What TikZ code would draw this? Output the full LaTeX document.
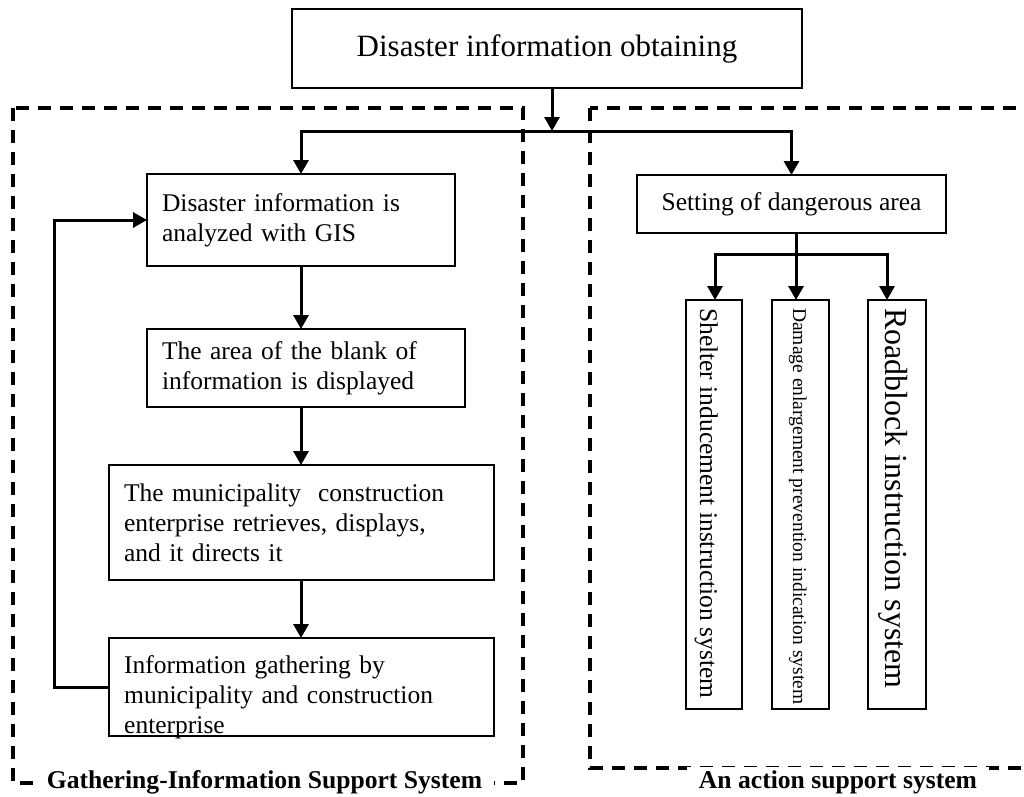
\documentclass[tikz,border=0pt]{standalone}
\usepackage{fontspec}
\setmainfont{Liberation Serif}
\usetikzlibrary{arrows.meta}
\begin{document}
\begin{tikzpicture}[x=1pt,y=-1pt,
  box/.style={draw, line width=2.5pt, rectangle, outer sep=0pt, inner sep=0pt, anchor=north west},
  txtbox/.style={box, inner xsep=15pt, align=left, font=\fontsize{25.5pt}{30pt}\selectfont},
  conn/.style={line width=3pt},
  arr/.style={conn, line join=miter, -{Triangle[width=15pt,length=14pt]}},
  dashbox/.style={line width=3.5pt, dash pattern=on 13pt off 9pt},
  grouplabel/.style={fill=white, inner xsep=12pt, inner ysep=3pt, font=\fontsize{25.6pt}{30pt}\selectfont\bfseries, anchor=base},
  vtext/.style={rotate=-90, anchor=base west, inner sep=0pt}
]
\useasboundingbox (0,0) rectangle (1024,796);
\clip (0,0) rectangle (1024,796);

% dashed groups
\coordinate (gl1) at (13,108); \coordinate (gl2) at (523,783);
\coordinate (gr1) at (590,108); \coordinate (gr2) at (1045,768);
\draw[dashbox] (gl1) rectangle (gl2);
\draw[dashbox] (gr1) rectangle (gr2);

% top
\node[box, minimum width=510pt, minimum height=79pt, font=\fontsize{31pt}{36pt}\selectfont] (top) at (292,9) {Disaster information obtaining};

% left column
\node[txtbox, text width=278pt, minimum height=92pt] (b1) at (147,174) {Disaster information is\\analyzed with GIS};
\node[txtbox, text width=288pt, minimum height=78pt] (b2) at (147,329) {The area of the blank of\\information is displayed};
\node[txtbox, text width=355pt, minimum height=115pt] (b3) at (109,465) {The municipality\ \ construction\\enterprise retrieves, displays,\\and it directs it};
\node[anchor=north west, inner sep=0pt, align=left, text width=355pt, font=\fontsize{25.5pt}{30pt}\selectfont] (b4t) at (124,655) {Information gathering by\\municipality and construction\\enterprise};
\node[box, minimum width=385pt, minimum height=98pt] (b4) at (109,638) {};

% right column
\node[box, minimum width=309pt, minimum height=58pt, font=\fontsize{25.5pt}{30pt}\selectfont] (set) at (637,175) {Setting of dangerous area};
\node[box, minimum width=56pt, minimum height=409pt] (sh) at (686,300) {};
\node[vtext, font=\fontsize{25.5pt}{30pt}\selectfont] (sht) at (700,308) {Shelter inducement instruction system};
\node[box, minimum width=57pt, minimum height=409pt] (dm) at (772,300) {};
\node[vtext, font=\fontsize{19.5pt}{23pt}\selectfont] (dmt) at (793,308) {Damage enlargement prevention indication system};
\node[box, minimum width=58pt, minimum height=409pt] (rb) at (868,300) {};
\node[vtext, font=\fontsize{32pt}{37pt}\selectfont] (rbt) at (885,308) {Roadblock instruction system};

% connectors
\coordinate (jt) at (552,131);
\draw[arr] (jt |- top.south) -- (jt);
\draw[arr] (jt) -| (b1.north);
\draw[arr] (jt) -| (set.north);
\draw[arr] (b1.south) -- (b1.south |- b2.north);
\draw[arr] (b1.south |- b2.south) -- (b1.south |- b3.north);
\draw[arr] (b1.south |- b3.south) -- (b1.south |- b4.north);
\draw[arr] (b4.west) -- ++(-55,0) |- (b1.west);

\coordinate (js) at (796,254);
\coordinate (jl) at (715,254);
\coordinate (jr) at (887,254);
\draw[arr] (js |- set.south) -- (js |- dm.north);
\draw[arr] (js) -| (jl |- sh.north);
\draw[arr] (js) -| (jr |- rb.north);

% group labels
\node[grouplabel] (gll) at (264.5,788) {Gathering-Information Support System};
\node[grouplabel] (grl) at (838,788) {An action support system};
\end{tikzpicture}
\end{document}
